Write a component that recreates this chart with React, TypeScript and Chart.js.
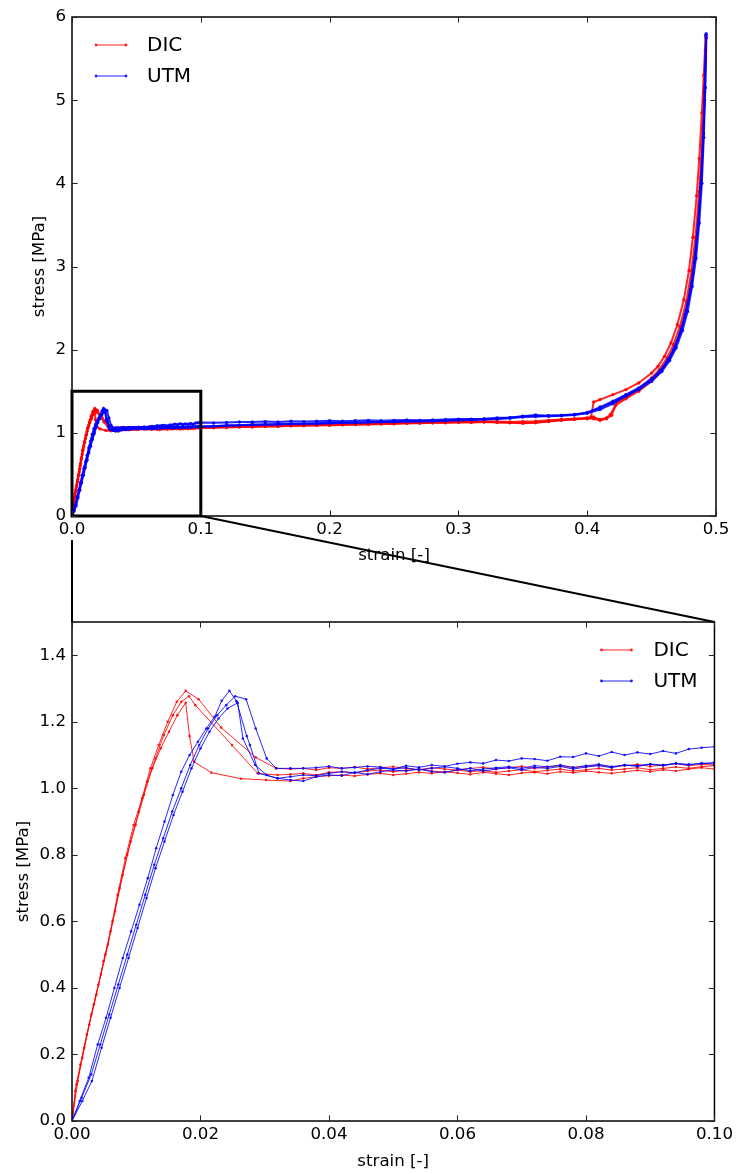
import React, { useEffect, useRef } from 'react';
import { Chart, registerables } from 'chart.js';

Chart.register(...registerables);

const FONT = '"DejaVu Sans", "Liberation Sans", sans-serif';

// ---------- Series labels ----------
const legendLabels = ['DIC', 'UTM'];
const dicColor = 'rgba(255,0,0,0.85)';
const utmColor = 'rgba(0,0,255,0.85)';

// ---------- Tick values ----------
const topXTicks = [0, 0.1, 0.2, 0.3, 0.4, 0.5];
const topYTicks = [0, 1, 2, 3, 4, 5, 6];
const botXTicks = [0, 0.02, 0.04, 0.06, 0.08, 0.1];
const botYTicks = [0, 0.2, 0.4, 0.6, 0.8, 1.0, 1.2, 1.4];

// zoom window shown in the lower panel
const zoomStrain = [0, 0.1];
const zoomStress = [0, 1.5];

// ---------- DIC specimens: elastic rise + peak ----------
const dic1RiseStrain = [0, 0.0007, 0.0016, 0.0027, 0.0038, 0.0049, 0.006, 0.0071, 0.0083, 0.0096, 0.0109, 0.0122, 0.0135, 0.0149, 0.0163, 0.0177, 0.0197, 0.0232, 0.0286, 0.0318];
const dic1RiseStress = [0, 0.11, 0.19, 0.29, 0.38, 0.48, 0.57, 0.68, 0.79, 0.89, 0.97, 1.06, 1.13, 1.2, 1.26, 1.293, 1.268, 1.183, 1.093, 1.06];
const dic2RiseStrain = [0, 0.0005, 0.0013, 0.0023, 0.0034, 0.0045, 0.0056, 0.0067, 0.0079, 0.0091, 0.0104, 0.0117, 0.013, 0.0143, 0.0157, 0.017, 0.0182, 0.0192, 0.0249, 0.0289, 0.032];
const dic2RiseStress = [0, 0.09, 0.17, 0.26, 0.35, 0.44, 0.53, 0.63, 0.74, 0.84, 0.93, 1.02, 1.09, 1.16, 1.22, 1.26, 1.277, 1.25, 1.13, 1.045, 1.04];
const dic3RiseStrain = [0, 0.0009, 0.0019, 0.003, 0.0041, 0.0052, 0.0063, 0.0074, 0.0086, 0.0099, 0.0112, 0.0125, 0.0138, 0.0151, 0.0164, 0.0177, 0.0183, 0.019, 0.0217, 0.0263, 0.0302];
const dic3RiseStress = [0, 0.12, 0.22, 0.32, 0.41, 0.5, 0.6, 0.7, 0.8, 0.89, 0.98, 1.06, 1.12, 1.17, 1.22, 1.257, 1.157, 1.08, 1.047, 1.029, 1.025];

// ---------- UTM specimens: elastic rise + peak ----------
const utm1RiseStrain = [0, 0.0012, 0.0026, 0.004, 0.0053, 0.0066, 0.0079, 0.0092, 0.0105, 0.0118, 0.0131, 0.0144, 0.0157, 0.017, 0.0183, 0.0196, 0.0209, 0.0222, 0.0233, 0.0245, 0.0256, 0.0272, 0.0277, 0.0291, 0.032];
const utm1RiseStress = [0, 0.06, 0.13, 0.23, 0.31, 0.4, 0.49, 0.57, 0.65, 0.73, 0.82, 0.9, 0.98, 1.05, 1.1, 1.14, 1.18, 1.215, 1.263, 1.293, 1.262, 1.157, 1.13, 1.045, 1.03];
const utm2RiseStrain = [0, 0.0015, 0.003, 0.0044, 0.0058, 0.0072, 0.0086, 0.01, 0.0114, 0.0128, 0.0142, 0.0156, 0.017, 0.0184, 0.0198, 0.0212, 0.0226, 0.024, 0.0254, 0.0271, 0.0286, 0.0303, 0.0318];
const utm2RiseStress = [0, 0.07, 0.14, 0.23, 0.32, 0.41, 0.5, 0.59, 0.68, 0.77, 0.85, 0.93, 1.0, 1.07, 1.13, 1.18, 1.22, 1.25, 1.277, 1.268, 1.18, 1.09, 1.06];
const utm3RiseStrain = [0, 0.0016, 0.0031, 0.0046, 0.006, 0.0074, 0.0088, 0.0102, 0.0116, 0.013, 0.0144, 0.0158, 0.0172, 0.0186, 0.02, 0.0214, 0.0228, 0.0242, 0.0258, 0.0266, 0.0285, 0.0303, 0.032];
const utm3RiseStress = [0, 0.06, 0.12, 0.22, 0.31, 0.4, 0.49, 0.58, 0.67, 0.76, 0.84, 0.92, 0.99, 1.06, 1.12, 1.17, 1.21, 1.24, 1.257, 1.15, 1.07, 1.04, 1.03];

// ---------- Plateau (shared strain grid) ----------
const plateauStrain = [0.034, 0.036, 0.038, 0.04, 0.042, 0.044, 0.046, 0.048, 0.05, 0.052, 0.054, 0.056, 0.058, 0.06, 0.062, 0.064, 0.066, 0.068, 0.07, 0.072, 0.074, 0.076, 0.078, 0.08, 0.082, 0.084, 0.086, 0.088, 0.09, 0.092, 0.094, 0.096, 0.098, 0.1];
const dic1Plateau = [1.058, 1.06, 1.055, 1.062, 1.06, 1.064, 1.058, 1.062, 1.065, 1.06, 1.056, 1.062, 1.058, 1.055, 1.06, 1.063, 1.058, 1.062, 1.066, 1.06, 1.064, 1.068, 1.062, 1.066, 1.07, 1.065, 1.068, 1.072, 1.066, 1.07, 1.074, 1.068, 1.072, 1.07];
const dic2Plateau = [1.042, 1.045, 1.04, 1.048, 1.05, 1.046, 1.052, 1.055, 1.05, 1.054, 1.058, 1.052, 1.048, 1.055, 1.05, 1.053, 1.048, 1.052, 1.056, 1.05, 1.054, 1.058, 1.052, 1.056, 1.06, 1.055, 1.058, 1.062, 1.056, 1.06, 1.064, 1.06, 1.065, 1.068];
const dic3Plateau = [1.022, 1.03, 1.035, 1.038, 1.04, 1.037, 1.042, 1.045, 1.04, 1.044, 1.048, 1.045, 1.05, 1.046, 1.042, 1.048, 1.044, 1.04, 1.046, 1.048, 1.044, 1.05, 1.047, 1.052, 1.048, 1.045, 1.05, 1.054, 1.05, 1.056, 1.052, 1.058, 1.062, 1.058];
const utm1Plateau = [1.035, 1.04, 1.038, 1.045, 1.05, 1.047, 1.055, 1.06, 1.058, 1.062, 1.055, 1.06, 1.065, 1.06, 1.052, 1.058, 1.062, 1.065, 1.06, 1.068, 1.065, 1.07, 1.063, 1.068, 1.072, 1.065, 1.07, 1.068, 1.073, 1.07, 1.075, 1.07, 1.076, 1.073];
const utm2Plateau = [1.06, 1.06, 1.062, 1.066, 1.06, 1.063, 1.066, 1.064, 1.058, 1.068, 1.063, 1.07, 1.066, 1.074, 1.078, 1.075, 1.085, 1.082, 1.09, 1.088, 1.083, 1.095, 1.094, 1.105, 1.097, 1.109, 1.1, 1.108, 1.103, 1.112, 1.105, 1.118, 1.122, 1.125];
const utm3Plateau = [1.025, 1.022, 1.035, 1.04, 1.038, 1.048, 1.042, 1.05, 1.055, 1.052, 1.058, 1.05, 1.048, 1.055, 1.06, 1.052, 1.058, 1.062, 1.055, 1.063, 1.06, 1.066, 1.058, 1.064, 1.068, 1.062, 1.07, 1.066, 1.072, 1.068, 1.075, 1.072, 1.074, 1.078];

// ---------- Long plateau (shared strain grid) ----------
const farStrain = [0.11, 0.12, 0.13, 0.14, 0.15, 0.16, 0.17, 0.18, 0.19, 0.2, 0.21, 0.22, 0.23, 0.24, 0.25, 0.26, 0.27, 0.28, 0.29, 0.3, 0.31, 0.32, 0.33, 0.34, 0.35, 0.36, 0.37, 0.38, 0.39, 0.4];
const dic1Far = [1.07, 1.075, 1.08, 1.08, 1.085, 1.09, 1.09, 1.095, 1.1, 1.1, 1.105, 1.11, 1.11, 1.115, 1.12, 1.12, 1.125, 1.13, 1.13, 1.135, 1.14, 1.14, 1.135, 1.13, 1.135, 1.14, 1.15, 1.16, 1.17, 1.18];
const dic2Far = [1.065, 1.07, 1.07, 1.075, 1.08, 1.08, 1.085, 1.09, 1.09, 1.095, 1.1, 1.1, 1.105, 1.11, 1.11, 1.115, 1.12, 1.12, 1.125, 1.13, 1.13, 1.13, 1.125, 1.12, 1.115, 1.12, 1.135, 1.15, 1.16, 1.175];
const dic3Far = [1.06, 1.065, 1.07, 1.07, 1.075, 1.08, 1.085, 1.085, 1.09, 1.09, 1.095, 1.1, 1.1, 1.105, 1.11, 1.115, 1.115, 1.12, 1.12, 1.125, 1.125, 1.13, 1.13, 1.125, 1.12, 1.125, 1.14, 1.155, 1.165, 1.17];
const utm1Far = [1.08, 1.09, 1.09, 1.1, 1.1, 1.105, 1.11, 1.11, 1.115, 1.12, 1.12, 1.125, 1.13, 1.13, 1.135, 1.14, 1.14, 1.145, 1.15, 1.155, 1.16, 1.165, 1.17, 1.18, 1.195, 1.2, 1.205, 1.21, 1.22, 1.24];
const utm2Far = [1.12, 1.125, 1.13, 1.13, 1.135, 1.13, 1.14, 1.135, 1.14, 1.145, 1.14, 1.145, 1.15, 1.145, 1.15, 1.155, 1.15, 1.155, 1.16, 1.165, 1.165, 1.17, 1.18, 1.185, 1.2, 1.215, 1.205, 1.21, 1.22, 1.245];
const utm3Far = [1.08, 1.085, 1.09, 1.095, 1.1, 1.1, 1.105, 1.11, 1.11, 1.115, 1.12, 1.12, 1.125, 1.13, 1.13, 1.135, 1.14, 1.14, 1.145, 1.15, 1.155, 1.16, 1.165, 1.175, 1.19, 1.195, 1.2, 1.205, 1.215, 1.235];

// ---------- Densification ----------
const dic1EndStrain = [0.403, 0.405, 0.41, 0.42, 0.43, 0.44, 0.45, 0.455, 0.46, 0.465, 0.47, 0.475, 0.479, 0.482, 0.485, 0.487, 0.489, 0.4905, 0.492];
const dic1EndStress = [1.19, 1.37, 1.4, 1.46, 1.52, 1.6, 1.72, 1.8, 1.92, 2.08, 2.3, 2.6, 2.95, 3.35, 3.85, 4.3, 4.85, 5.3, 5.78];
const dic2EndStrain = [0.405, 0.41, 0.415, 0.419, 0.423, 0.43, 0.44, 0.45, 0.456, 0.462, 0.467, 0.472, 0.477, 0.481, 0.484, 0.487, 0.489, 0.4905, 0.4918];
const dic2EndStress = [1.17, 1.15, 1.17, 1.21, 1.37, 1.42, 1.53, 1.66, 1.76, 1.9, 2.06, 2.28, 2.58, 2.95, 3.35, 3.9, 4.45, 5.0, 5.6];
const dic3EndStrain = [0.405, 0.41, 0.415, 0.418, 0.422, 0.43, 0.44, 0.45, 0.457, 0.463, 0.468, 0.473, 0.478, 0.482, 0.485, 0.4875, 0.4895, 0.491, 0.4922];
const dic3EndStress = [1.19, 1.16, 1.18, 1.22, 1.33, 1.41, 1.5, 1.62, 1.73, 1.86, 2.02, 2.24, 2.55, 2.92, 3.35, 3.85, 4.4, 5.0, 5.75];
const utm1EndStrain = [0.41, 0.42, 0.43, 0.44, 0.45, 0.456, 0.462, 0.467, 0.472, 0.476, 0.48, 0.483, 0.486, 0.488, 0.49, 0.4912, 0.4922];
const utm1EndStress = [1.3, 1.37, 1.45, 1.53, 1.64, 1.73, 1.86, 2.0, 2.2, 2.42, 2.72, 3.05, 3.5, 3.95, 4.55, 5.1, 5.78];
const utm2EndStrain = [0.41, 0.42, 0.43, 0.44, 0.45, 0.457, 0.463, 0.468, 0.473, 0.477, 0.481, 0.484, 0.4865, 0.4885, 0.4903, 0.4915, 0.4924];
const utm2EndStress = [1.31, 1.38, 1.46, 1.54, 1.65, 1.75, 1.88, 2.03, 2.24, 2.47, 2.78, 3.12, 3.55, 4.0, 4.6, 5.15, 5.8];
const utm3EndStrain = [0.41, 0.42, 0.43, 0.44, 0.45, 0.458, 0.464, 0.469, 0.474, 0.478, 0.4815, 0.4845, 0.487, 0.489, 0.4905, 0.4917, 0.4925];
const utm3EndStress = [1.28, 1.35, 1.44, 1.52, 1.62, 1.74, 1.87, 2.02, 2.23, 2.46, 2.76, 3.1, 3.52, 4.0, 4.55, 5.15, 5.75];

type Pt = { x: number; y: number };

function buildCurve(rs: number[], ry: number[], plat: number[], far: number[], es: number[], ey: number[]): Pt[] {
  const pts: Pt[] = [];
  rs.forEach((s, i) => pts.push({ x: s, y: ry[i] }));
  plateauStrain.forEach((s, i) => pts.push({ x: s, y: plat[i] }));
  farStrain.forEach((s, i) => pts.push({ x: s, y: far[i] }));
  es.forEach((s, i) => pts.push({ x: s, y: ey[i] }));
  return pts;
}

const dicCurves = [
  buildCurve(dic1RiseStrain, dic1RiseStress, dic1Plateau, dic1Far, dic1EndStrain, dic1EndStress),
  buildCurve(dic2RiseStrain, dic2RiseStress, dic2Plateau, dic2Far, dic2EndStrain, dic2EndStress),
  buildCurve(dic3RiseStrain, dic3RiseStress, dic3Plateau, dic3Far, dic3EndStrain, dic3EndStress),
];
const utmCurves = [
  buildCurve(utm1RiseStrain, utm1RiseStress, utm1Plateau, utm1Far, utm1EndStrain, utm1EndStress),
  buildCurve(utm2RiseStrain, utm2RiseStress, utm2Plateau, utm2Far, utm2EndStrain, utm2EndStress),
  buildCurve(utm3RiseStrain, utm3RiseStress, utm3Plateau, utm3Far, utm3EndStrain, utm3EndStress),
];

const TICK_FONT = { family: FONT, size: 16.67 };
const TITLE_FONT = { family: FONT, size: 16.67 };

interface PanelOpts {
  xMin: number; xMax: number; yMin: number; yMax: number;
  xTicks: number[]; yTicks: number[]; xDigits: number; yDigits: number;
  legendSide: 'left' | 'right';
  zoomBox: boolean;
  lineWidth: number; pointRadius: number;
  padTop: number; xAxisHeight: number;
  yTitlePad: number; xTitlePad: number;
}

function mplPlugin(o: PanelOpts) {
  return {
    id: 'mplDecor',
    afterDatasetsDraw(chart: any) {
      const { ctx, chartArea: a, scales } = chart;
      const sx = scales.x, sy = scales.y;
      ctx.save();
      if (o.zoomBox) {
        const x0 = sx.getPixelForValue(zoomStrain[0]);
        const x1 = sx.getPixelForValue(zoomStrain[1]);
        const y0 = sy.getPixelForValue(zoomStress[0]);
        const y1 = sy.getPixelForValue(zoomStress[1]);
        ctx.strokeStyle = '#000';
        ctx.lineWidth = 3;
        ctx.strokeRect(x0, y1, x1 - x0, y0 - y1);
      }
      // frame
      ctx.strokeStyle = '#000';
      ctx.lineWidth = 1.5;
      ctx.strokeRect(a.left, a.top, a.right - a.left, a.bottom - a.top);
      // inward ticks on all sides
      ctx.lineWidth = 1;
      ctx.strokeStyle = '#222';
      const L = 5.6;
      ctx.beginPath();
      for (const t of sx.ticks) {
        const px = Math.round(sx.getPixelForValue(t.value)) + 0.5;
        ctx.moveTo(px, a.bottom); ctx.lineTo(px, a.bottom - L);
        ctx.moveTo(px, a.top); ctx.lineTo(px, a.top + L);
      }
      for (const t of sy.ticks) {
        const py = Math.round(sy.getPixelForValue(t.value)) + 0.5;
        ctx.moveTo(a.left, py); ctx.lineTo(a.left + L, py);
        ctx.moveTo(a.right, py); ctx.lineTo(a.right - L, py);
      }
      ctx.stroke();
      // legend (frameless, matplotlib style)
      const colors = [dicColor, utmColor];
      ctx.font = `20px ${FONT}`;
      ctx.textBaseline = 'middle';
      ctx.textAlign = 'left';
      legendLabels.forEach((lab, i) => {
        const y = a.top + 28 + i * 31;
        const lx1 = o.legendSide === 'left' ? a.left + 24 : a.right - 113;
        const lx2 = lx1 + 30;
        const tx = o.legendSide === 'left' ? a.left + 75 : a.right - 61;
        ctx.strokeStyle = colors[i];
        ctx.fillStyle = colors[i];
        ctx.lineWidth = 1;
        ctx.beginPath(); ctx.moveTo(lx1, y); ctx.lineTo(lx2, y); ctx.stroke();
        ctx.beginPath(); ctx.arc(lx1, y, 1.4, 0, Math.PI * 2); ctx.fill();
        ctx.beginPath(); ctx.arc(lx2, y, 1.4, 0, Math.PI * 2); ctx.fill();
        ctx.fillStyle = '#000';
        ctx.fillText(lab, tx, y + 1);
      });
      ctx.restore();
    },
  };
}

function makeConfig(o: PanelOpts): any {
  const ds = (pts: Pt[], color: string, order: number) => ({
    data: pts,
    borderColor: color,
    backgroundColor: color,
    borderWidth: o.lineWidth,
    pointRadius: o.pointRadius,
    pointBorderWidth: 0,
    pointHoverRadius: 0,
    pointBackgroundColor: color,
    showLine: true,
    fill: false,
    tension: 0,
    order,
  });
  return {
    type: 'line',
    data: {
      datasets: [
        ...dicCurves.map((c, i) => ({ ...ds(c, dicColor, 1), label: i === 0 ? legendLabels[0] : legendLabels[0] + ' ' + (i + 1) })),
        ...utmCurves.map((c, i) => ({ ...ds(c, utmColor, 0), label: i === 0 ? legendLabels[1] : legendLabels[1] + ' ' + (i + 1) })),
      ],
    },
    options: {
      animation: false,
      responsive: false,
      devicePixelRatio: 1,
      events: [],
      layout: { padding: { top: o.padTop, right: 21, left: 0, bottom: 0 } },
      plugins: { legend: { display: false }, tooltip: { enabled: false } },
      scales: {
        x: {
          type: 'linear',
          min: o.xMin, max: o.xMax,
          grid: { display: false, drawTicks: false },
          border: { display: false },
          afterBuildTicks: (s: any) => { s.ticks = o.xTicks.map((v) => ({ value: v })); },
          afterFit: (s: any) => { s.height = o.xAxisHeight; },
          ticks: {
            autoSkip: false, maxRotation: 0, padding: 4, color: '#000', font: TICK_FONT,
            callback: (v: any) => Number(v).toFixed(o.xDigits),
          },
          title: { display: true, text: 'strain [-]', color: '#000', font: TITLE_FONT, padding: { top: 0, bottom: o.xTitlePad } },
        },
        y: {
          type: 'linear',
          min: o.yMin, max: o.yMax,
          grid: { display: false, drawTicks: false },
          border: { display: false },
          afterBuildTicks: (s: any) => { s.ticks = o.yTicks.map((v) => ({ value: v })); },
          afterFit: (s: any) => { s.width = 72; },
          ticks: {
            autoSkip: false, padding: 6, color: '#000', font: TICK_FONT,
            callback: (v: any) => Number(v).toFixed(o.yDigits),
          },
          title: { display: true, text: 'stress [MPa]', color: '#000', font: TITLE_FONT, padding: { top: o.yTitlePad, bottom: 0 } },
        },
      },
    },
    plugins: [mplPlugin(o)],
  };
}

const TOP_H = 580;
const BOT_TOP = 580;
const BOT_H = 594;

export default function App() {
  const topRef = useRef<HTMLCanvasElement>(null);
  const botRef = useRef<HTMLCanvasElement>(null);
  const overRef = useRef<HTMLCanvasElement>(null);

  useEffect(() => {
    const top = new Chart(topRef.current as HTMLCanvasElement, makeConfig({
      xMin: 0, xMax: 0.5, yMin: 0, yMax: 6,
      xTicks: topXTicks, yTicks: topYTicks, xDigits: 1, yDigits: 0,
      legendSide: 'left', zoomBox: true,
      lineWidth: 2, pointRadius: 1.7,
      padTop: 17, xAxisHeight: 64, yTitlePad: 30, xTitlePad: 14,
    }));
    const bot = new Chart(botRef.current as HTMLCanvasElement, makeConfig({
      xMin: zoomStrain[0], xMax: zoomStrain[1], yMin: zoomStress[0], yMax: zoomStress[1],
      xTicks: botXTicks, yTicks: botYTicks, xDigits: 2, yDigits: 1,
      legendSide: 'right', zoomBox: false,
      lineWidth: 1, pointRadius: 1.3,
      padTop: 42, xAxisHeight: 53, yTitlePad: 14, xTitlePad: 2,
    }));

    // zoom connector lines between the panels
    const oc = overRef.current as HTMLCanvasElement;
    const ctx = oc.getContext('2d') as CanvasRenderingContext2D;
    ctx.clearRect(0, 0, oc.width, oc.height);
    const x0 = top.scales.x.getPixelForValue(zoomStrain[0]);
    const x1 = top.scales.x.getPixelForValue(zoomStrain[1]);
    const y0 = top.scales.y.getPixelForValue(zoomStress[0]);
    const ba = bot.chartArea;
    ctx.strokeStyle = '#000';
    ctx.lineWidth = 2;
    ctx.beginPath();
    ctx.moveTo(x1, y0);
    ctx.lineTo(ba.right, ba.top + BOT_TOP);
    ctx.stroke();
    ctx.beginPath();
    ctx.moveTo(x0, y0 + 24);
    ctx.lineTo(ba.left, ba.top + BOT_TOP);
    ctx.stroke();

    return () => {
      top.destroy();
      bot.destroy();
    };
  }, []);

  return (
    <div style={{ position: 'absolute', left: 0, top: 0, width: 737, height: 1174, background: '#fff' }}>
      <canvas ref={topRef} width={737} height={TOP_H} style={{ position: 'absolute', left: 0, top: 0 }} />
      <canvas ref={botRef} width={737} height={BOT_H} style={{ position: 'absolute', left: 0, top: BOT_TOP }} />
      <canvas ref={overRef} width={737} height={1174} style={{ position: 'absolute', left: 0, top: 0, pointerEvents: 'none' }} />
    </div>
  );
}
